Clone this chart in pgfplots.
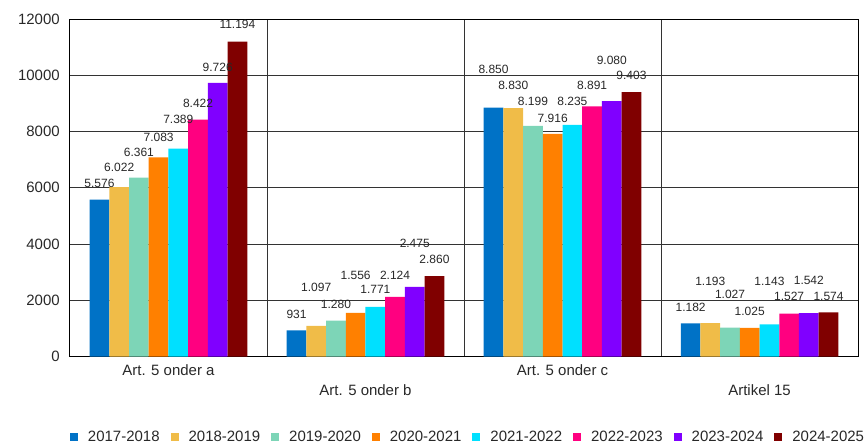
\documentclass[border=0pt]{standalone}
\usepackage{fontspec}
\setmainfont{Liberation Sans}
\usepackage{pgfplots}
\pgfplotsset{compat=1.18}
\usepackage{pgfplotstable}

\definecolor{c1}{RGB}{0,114,198}
\definecolor{c2}{RGB}{240,188,72}
\definecolor{c3}{RGB}{125,213,183}
\definecolor{c4}{RGB}{255,128,0}
\definecolor{c5}{RGB}{0,224,255}
\definecolor{c6}{RGB}{255,0,128}
\definecolor{c7}{RGB}{128,0,255}
\definecolor{c8}{RGB}{128,0,0}
\definecolor{txt}{RGB}{40,40,40}

% x: 0 = Art. 5 onder a, 1 = Art. 5 onder b, 2 = Art. 5 onder c, 3 = Artikel 15
% dy: distance (bp) from bar top to label centre
\pgfplotstableread{
x y dy
0 5576 16
1 931 16
2 8850 38
3 1182 16
}\sA
\pgfplotstableread{
x y dy
0 6022 20
1 1097 38
2 8830 23
3 1193 42
}\sB
\pgfplotstableread{
x y dy
0 6361 25
1 1280 16
2 8199 25
3 1027 33
}\sC
\pgfplotstableread{
x y dy
0 7083 20
1 1556 38
2 7916 16
3 1025 16
}\sD
\pgfplotstableread{
x y dy
0 7389 29
1 1771 17
2 8235 24
3 1143 43
}\sE
\pgfplotstableread{
x y dy
0 8422 16
1 2124 22
2 8891 21
3 1527 17
}\sF
\pgfplotstableread{
x y dy
0 9726 16
1 2475 44
2 9080 41
3 1542 33
}\sG
\pgfplotstableread{
x y dy
0 11194 17
1 2860 17
2 9403 17
3 1574 16
}\sH

\begin{document}
\begin{tikzpicture}
\begin{axis}[
  name=ax,
  scale only axis,
  width=789bp, height=338bp,
  xmin=-0.5, xmax=3.5,
  ymin=0, ymax=12000,
  ytick={0,2000,...,12000},
  scaled y ticks=false,
  /pgf/number format/assume math mode=true,
  /pgf/number format/1000 sep={},
  xtick={0,2},
  xticklabels={Art. 5 onder a, Art. 5 onder c},
  extra x ticks={1,3},
  extra x tick labels={Art. 5 onder b, Artikel 15},
  extra x tick style={xticklabel style={yshift=-20bp}},
  minor xtick={0.5,1.5,2.5},
  xminorgrids, ymajorgrids, xmajorgrids=false,
  grid style={black!80, line width=0.9bp},
  minor grid style={black!80, line width=0.9bp},
  axis line style={black, line width=0.9bp},
  major tick length=0pt, minor tick length=0pt,
  tick label style={font=\fontsize{15bp}{18bp}\selectfont, text=txt},
  xticklabel style={anchor=north, inner sep=0pt, yshift=-8bp},
  yticklabel style={anchor=east, inner sep=0pt, xshift=-10bp},
  ybar, bar width=0.1,
  nodes near coords={\pgfmathprintnumber[1000 sep={.}, assume math mode=true]{\pgfplotspointmeta}},
  visualization depends on={\thisrow{dy}\as\dy},
  every node near coord/.append style={anchor=center, inner sep=0pt, yshift=\dy bp,
     font=\fontsize{12bp}{14bp}\selectfont, text=txt},
  legend columns=8,
  legend image code/.code={\fill[#1, draw=none] (0bp,-4bp) rectangle (8bp,4bp);},
  legend style={at={(0.5,0)}, anchor=center, xshift=3bp, yshift=-80bp, draw=none,
     font=\fontsize{15bp}{18bp}\selectfont, text=txt,
     nodes={inner sep=0pt},
     /tikz/every odd column/.append style={column sep=10bp},
     /tikz/every even column/.append style={column sep=11bp}},
]
\addplot[fill=c1, draw=none, bar shift=-0.35] table[x=x,y=y]{\sA};
\addplot[fill=c2, draw=none, bar shift=-0.25] table[x=x,y=y]{\sB};
\addplot[fill=c3, draw=none, bar shift=-0.15] table[x=x,y=y]{\sC};
\addplot[fill=c4, draw=none, bar shift=-0.05] table[x=x,y=y]{\sD};
\addplot[fill=c5, draw=none, bar shift=0.05] table[x=x,y=y]{\sE};
\addplot[fill=c6, draw=none, bar shift=0.15] table[x=x,y=y]{\sF};
\addplot[fill=c7, draw=none, bar shift=0.25] table[x=x,y=y]{\sG};
\addplot[fill=c8, draw=none, bar shift=0.35] table[x=x,y=y]{\sH};
\legend{2017-2018,2018-2019,2019-2020,2020-2021,2021-2022,2022-2023,2023-2024,2024-2025}
\end{axis}
\path ([xshift=-70bp,yshift=-87bp]ax.south west) rectangle ([xshift=8bp,yshift=19bp]ax.north east);
\end{tikzpicture}
\end{document}
